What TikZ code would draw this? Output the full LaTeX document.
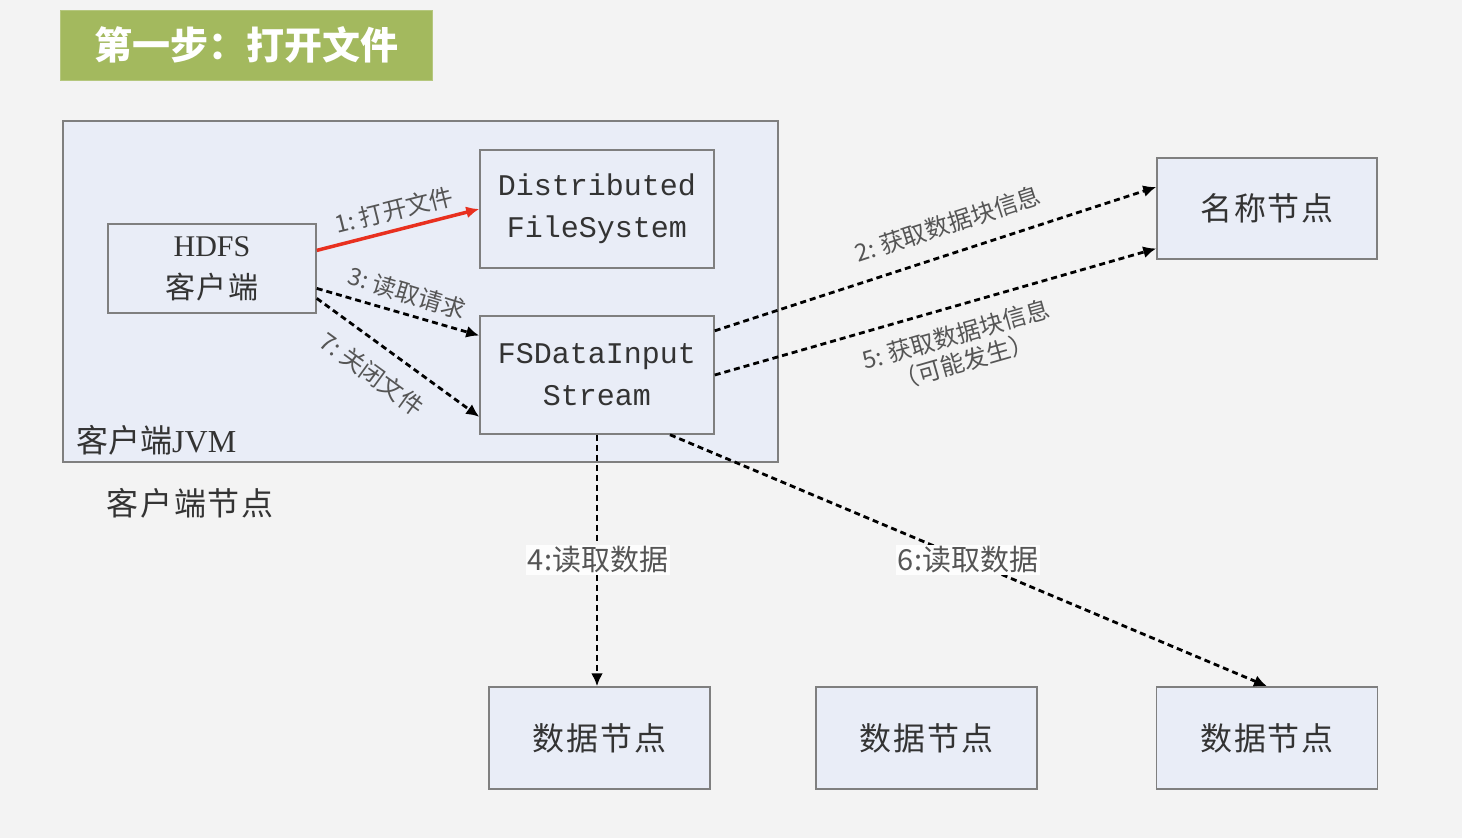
\documentclass[tikz,border=0pt]{standalone}
\usepackage{fontspec}
\setmainfont{Liberation Serif}
\newfontfamily\cjk{Noto Sans CJK SC}
\newfontfamily\cjksp{Noto Sans CJK SC}[LetterSpace=6]
\newfontfamily\mono{Liberation Mono}
\usetikzlibrary{arrows.meta,calc}
\definecolor{bg}{HTML}{F3F3F3}
\definecolor{boxfill}{HTML}{E9EDF7}
\definecolor{boxline}{HTML}{7F7F7F}
\definecolor{titlegreen}{HTML}{A3B95E}
\definecolor{redline}{HTML}{E8301F}
\definecolor{lbl}{HTML}{555555}
\definecolor{txt}{HTML}{333333}
\tikzset{
  box/.style={draw=boxline, line width=1.5pt, fill=boxfill, inner sep=0pt, text=txt, align=center},
  cjkbox/.style={box, font=\cjksp\fontsize{32}{36}\selectfont},
  dashedarrow/.style={draw=black, line width=2.8pt, dash pattern=on 6pt off 4pt, -{Latex[length=13pt,width=12pt]}},
  redarrow/.style={draw=redline, line width=3.5pt, -{Latex[length=13pt,width=12pt]}},
  lab/.style={text=lbl, inner sep=1pt, font=\cjk\fontsize{24}{28}\selectfont},
  biglab/.style={text=lbl, fill=white!85!bg, inner sep=2pt, font=\cjk\fontsize{29}{32}\selectfont}
}
\begin{document}
\begin{tikzpicture}[x=1pt,y=-1pt]
\fill[bg] (0,0) rectangle (1462,838);
\useasboundingbox (0,0) rectangle (1462,838);
% title
\node[fill=titlegreen, draw=titlegreen!80!white, line width=1pt, minimum width=372pt, minimum height=70pt, inner sep=0pt, text=white, font=\cjk\bfseries\fontsize{38}{40}\selectfont] (title) at (246,45) {第一步：打开文件};
% JVM box
\node[box, minimum width=715pt, minimum height=341pt] (jvm) at (420.5,291.5) {};
\node[anchor=west, text=txt, inner sep=0pt, font=\cjk\fontsize{32}{36}\selectfont] (jvmlabel) at (76,440) {客户端{\rmfamily JVM}};
\node[anchor=west, text=txt, inner sep=0pt, font=\cjksp\fontsize{32}{36}\selectfont] (nodelabel) at (106,503) {客户端节点};
% inner boxes
\node[box, minimum width=208pt, minimum height=89pt, font=\fontsize{30}{42}\selectfont] (hdfs) at (212,268.5) {{\rmfamily HDFS}\\{\cjksp 客户端}};
\node[box, minimum width=234pt, minimum height=118pt, font=\mono\fontsize{30}{42}\selectfont] (dfs) at (597,209) {Distributed\\FileSystem};
\node[box, minimum width=234pt, minimum height=118pt, font=\mono\fontsize{30}{42}\selectfont] (fs) at (597,375) {FSDataInput\\Stream};
% outer boxes
\node[cjkbox, minimum width=220pt, minimum height=101pt] (nn) at (1267,208.5) {名称节点};
\node[cjkbox, minimum width=221pt, minimum height=102pt] (dn1) at (599.5,738) {数据节点};
\node[cjkbox, minimum width=221pt, minimum height=102pt] (dn2) at (926.5,738) {数据节点};
\node[cjkbox, minimum width=221pt, minimum height=102pt] (dn3) at (1267,738) {数据节点};
% connectors
\coordinate (h1) at ($(hdfs.north east)!0.30!(hdfs.south east)$);
\coordinate (h3) at ($(hdfs.north east)!0.72!(hdfs.south east)$);
\coordinate (h7) at ($(hdfs.north east)!0.83!(hdfs.south east)$);
\coordinate (f3) at ($(fs.north west)!0.17!(fs.south west)$);
\coordinate (f7) at ($(fs.north west)!0.85!(fs.south west)$);
\coordinate (f2) at ($(fs.north east)!0.13!(fs.south east)$);
\coordinate (n2) at ($(nn.north west)!0.29!(nn.south west)$);
\coordinate (n5) at ($(nn.north west)!0.89!(nn.south west)$);
\coordinate (f6) at ($(fs.south)+(73,0)$);
\draw[redarrow] (h1) -- (dfs.west);
\draw[dashedarrow] (h3) -- (f3);
\draw[dashedarrow] (h7) -- (f7);
\draw[dashedarrow] (f2) -- (n2);
\draw[dashedarrow] (fs.east) -- (n5);
\draw[dashedarrow] (fs.south) -- (fs.south |- dn1.north);
\draw[dashedarrow] (f6) -- (dn3.north);
% labels
\node[lab, rotate=14] (l1) at (394,210) {1:\ 打开文件};
\node[lab, rotate=-17] (l3) at (407,293) {3:\ 读取请求};
\node[lab, rotate=-36] (l7) at (372,374) {7:\ 关闭文件};
\node[lab, rotate=18] (l2) at (948,224) {2:\ 获取数据块信息};
\node[lab, rotate=16, align=center, font=\cjk\fontsize{24}{28}\selectfont] (l5) at (960,348) {5:\ 获取数据块信息\\（可能发生）};
\node[biglab] (l4) at (598,560) {4:读取数据};
\node[biglab] (l6) at (968,560) {6:读取数据};
\end{tikzpicture}
\end{document}
